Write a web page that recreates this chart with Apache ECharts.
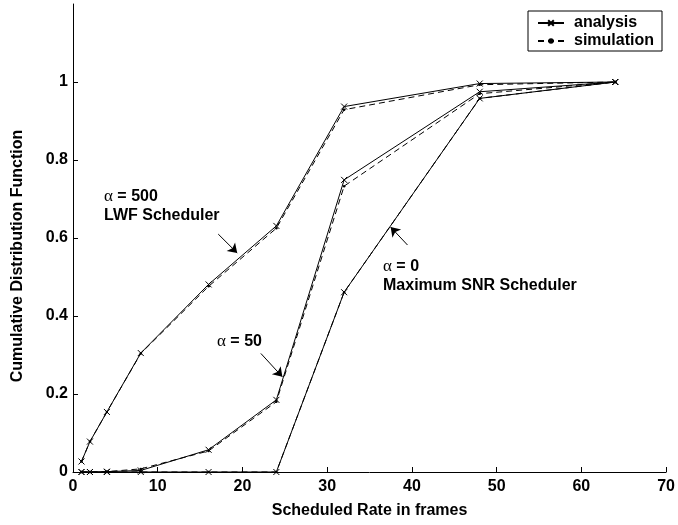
<!DOCTYPE html>
<html>
<head>
<meta charset="utf-8">
<script src="https://cdn.jsdelivr.net/npm/echarts@6/dist/echarts.min.js"></script>
<style>html,body{margin:0;padding:0;background:#fff;}#c{width:678px;height:525px;}</style>
</head>
<body>
<div id="c"></div>
<script>
// ---- data ----
const xValues = [1, 2, 4, 8, 16, 24, 32, 48, 64];
const analysisA500 = [0.027, 0.078, 0.154, 0.305, 0.481, 0.631, 0.937, 0.996, 1.0];
const simulationA500 = [0.027, 0.078, 0.154, 0.304, 0.476, 0.625, 0.929, 0.993, 1.0];
const analysisA50 = [0, 0, 0.001, 0.004, 0.057, 0.185, 0.749, 0.975, 1.0];
const simulationA50 = [0, 0, 0.001, 0.008, 0.054, 0.180, 0.733, 0.970, 1.0];
const analysisA0 = [0, 0, 0, 0, 0, 0, 0.461, 0.958, 1.0];
const simulationA0 = [0, 0, 0, 0, 0, 0, 0.461, 0.958, 1.0];
const xTicks = [0, 10, 20, 30, 40, 50, 60, 70];
const yTicks = [0, 0.2, 0.4, 0.6, 0.8, 1];
// annotation arrows [start, tip] in data units
const arrows = [
  [[17.14, 0.610], [19.38, 0.5615]],
  [[22.17, 0.304], [24.71, 0.244]],
  [[39.48, 0.582], [37.49, 0.628]]
];

const FONT = 'Liberation Sans';
const pairs = arr => xValues.map((x, i) => [x, arr[i]]);
const X_SYMBOL = 'path://M0,0L10,10M10,0L0,10';

function analysisSeries(arr) {
  return {
    name: 'analysis', type: 'line', data: pairs(arr),
    symbol: X_SYMBOL, symbolSize: 6, showAllSymbol: true,
    lineStyle: { color: '#000', width: 1, type: 'solid' },
    itemStyle: { color: '#000', borderColor: '#000', borderWidth: 1 },
    emphasis: { disabled: true }, z: 3
  };
}
function simulationSeries(arr) {
  return {
    name: 'simulation', type: 'line', data: pairs(arr),
    symbol: 'circle', symbolSize: 2.5, showAllSymbol: true,
    lineStyle: { color: '#000', width: 1, type: [6, 4] },
    itemStyle: { color: '#000', borderWidth: 0 },
    emphasis: { disabled: true }, z: 2
  };
}

const series = [
  analysisSeries(analysisA500), analysisSeries(analysisA50), analysisSeries(analysisA0),
  simulationSeries(simulationA500), simulationSeries(simulationA50), simulationSeries(simulationA0)
];
series[0].markLine = {
  silent: true, animation: false,
  symbol: ['none', 'arrow'], symbolSize: 9,
  label: { show: false },
  lineStyle: { color: '#000', width: 1, type: 'solid' },
  emphasis: { disabled: true },
  data: arrows.map(a => [{ coord: a[0] }, { coord: a[1] }])
};

const labelRich = {
  a: { fontFamily: 'Liberation Serif', fontSize: 17, fontWeight: 'normal', fill: '#000' },
  b: { fontFamily: FONT, fontSize: 16, fontWeight: 'bold', fill: '#000' }
};
function annText(x, y, str, rich) {
  return {
    type: 'text', left: x, top: y - 9, z: 10,
    style: rich ? { text: str, rich: labelRich, fill: '#000', font: 'bold 16px ' + FONT }
                : { text: str, fill: '#000', font: 'bold 16px ' + FONT }
  };
}

const chart = echarts.init(document.getElementById('c'), null, { renderer: 'canvas' });
chart.setOption({
  animation: false,
  backgroundColor: '#fff',
  grid: { left: 73, right: 10, top: 4, bottom: 53, containLabel: false },
  legend: {
    left: 528, top: 11,
    orient: 'vertical',
    data: ['analysis', 'simulation'],
    itemWidth: 26, itemHeight: 7, itemGap: 2,
    padding: [4, 8, 2, 9],
    borderColor: '#000', borderWidth: 1, borderRadius: 0,
    backgroundColor: '#fff',
    selectedMode: false,
    textStyle: { fontFamily: FONT, fontWeight: 'bold', fontSize: 16, color: '#000', padding: [0, 0, 0, 5] }
  },
  xAxis: {
    type: 'value', min: 0, max: 70, interval: 10,
    name: 'Scheduled Rate in frames', nameLocation: 'middle', nameGap: 31,
    nameTextStyle: { fontFamily: FONT, fontWeight: 'bold', fontSize: 16, color: '#000' },
    axisLine: { show: true, onZero: false, lineStyle: { color: '#000', width: 1 } },
    axisTick: { show: true, inside: true, length: 5, lineStyle: { color: '#000' }, customValues: xTicks },
    axisLabel: { fontFamily: FONT, fontWeight: 'bold', fontSize: 16, color: '#000', margin: 7, customValues: xTicks },
    splitLine: { show: false }
  },
  yAxis: {
    type: 'value', min: 0, max: 1.2, interval: 0.2,
    name: 'Cumulative Distribution Function', nameLocation: 'middle', nameGap: 47, nameRotate: 90,
    nameTextStyle: { fontFamily: FONT, fontWeight: 'bold', fontSize: 16, color: '#000', padding: [0, 36, 0, 0] },
    axisLine: { show: true, onZero: false, lineStyle: { color: '#000', width: 1 } },
    axisTick: { show: true, inside: true, length: 5, lineStyle: { color: '#000' }, customValues: yTicks },
    axisLabel: { fontFamily: FONT, fontWeight: 'bold', fontSize: 16, color: '#000', margin: 5, customValues: yTicks },
    splitLine: { show: false }
  },
  graphic: [
    annText(104, 197, '{a|α}{b| = 500}', true),
    annText(104, 217, 'LWF Scheduler'),
    annText(217, 342, '{a|α}{b| = 50}', true),
    annText(383, 267, '{a|α}{b| = 0}', true),
    annText(383, 287, 'Maximum SNR Scheduler')
  ],
  series: series
});
</script>
</body>
</html>
